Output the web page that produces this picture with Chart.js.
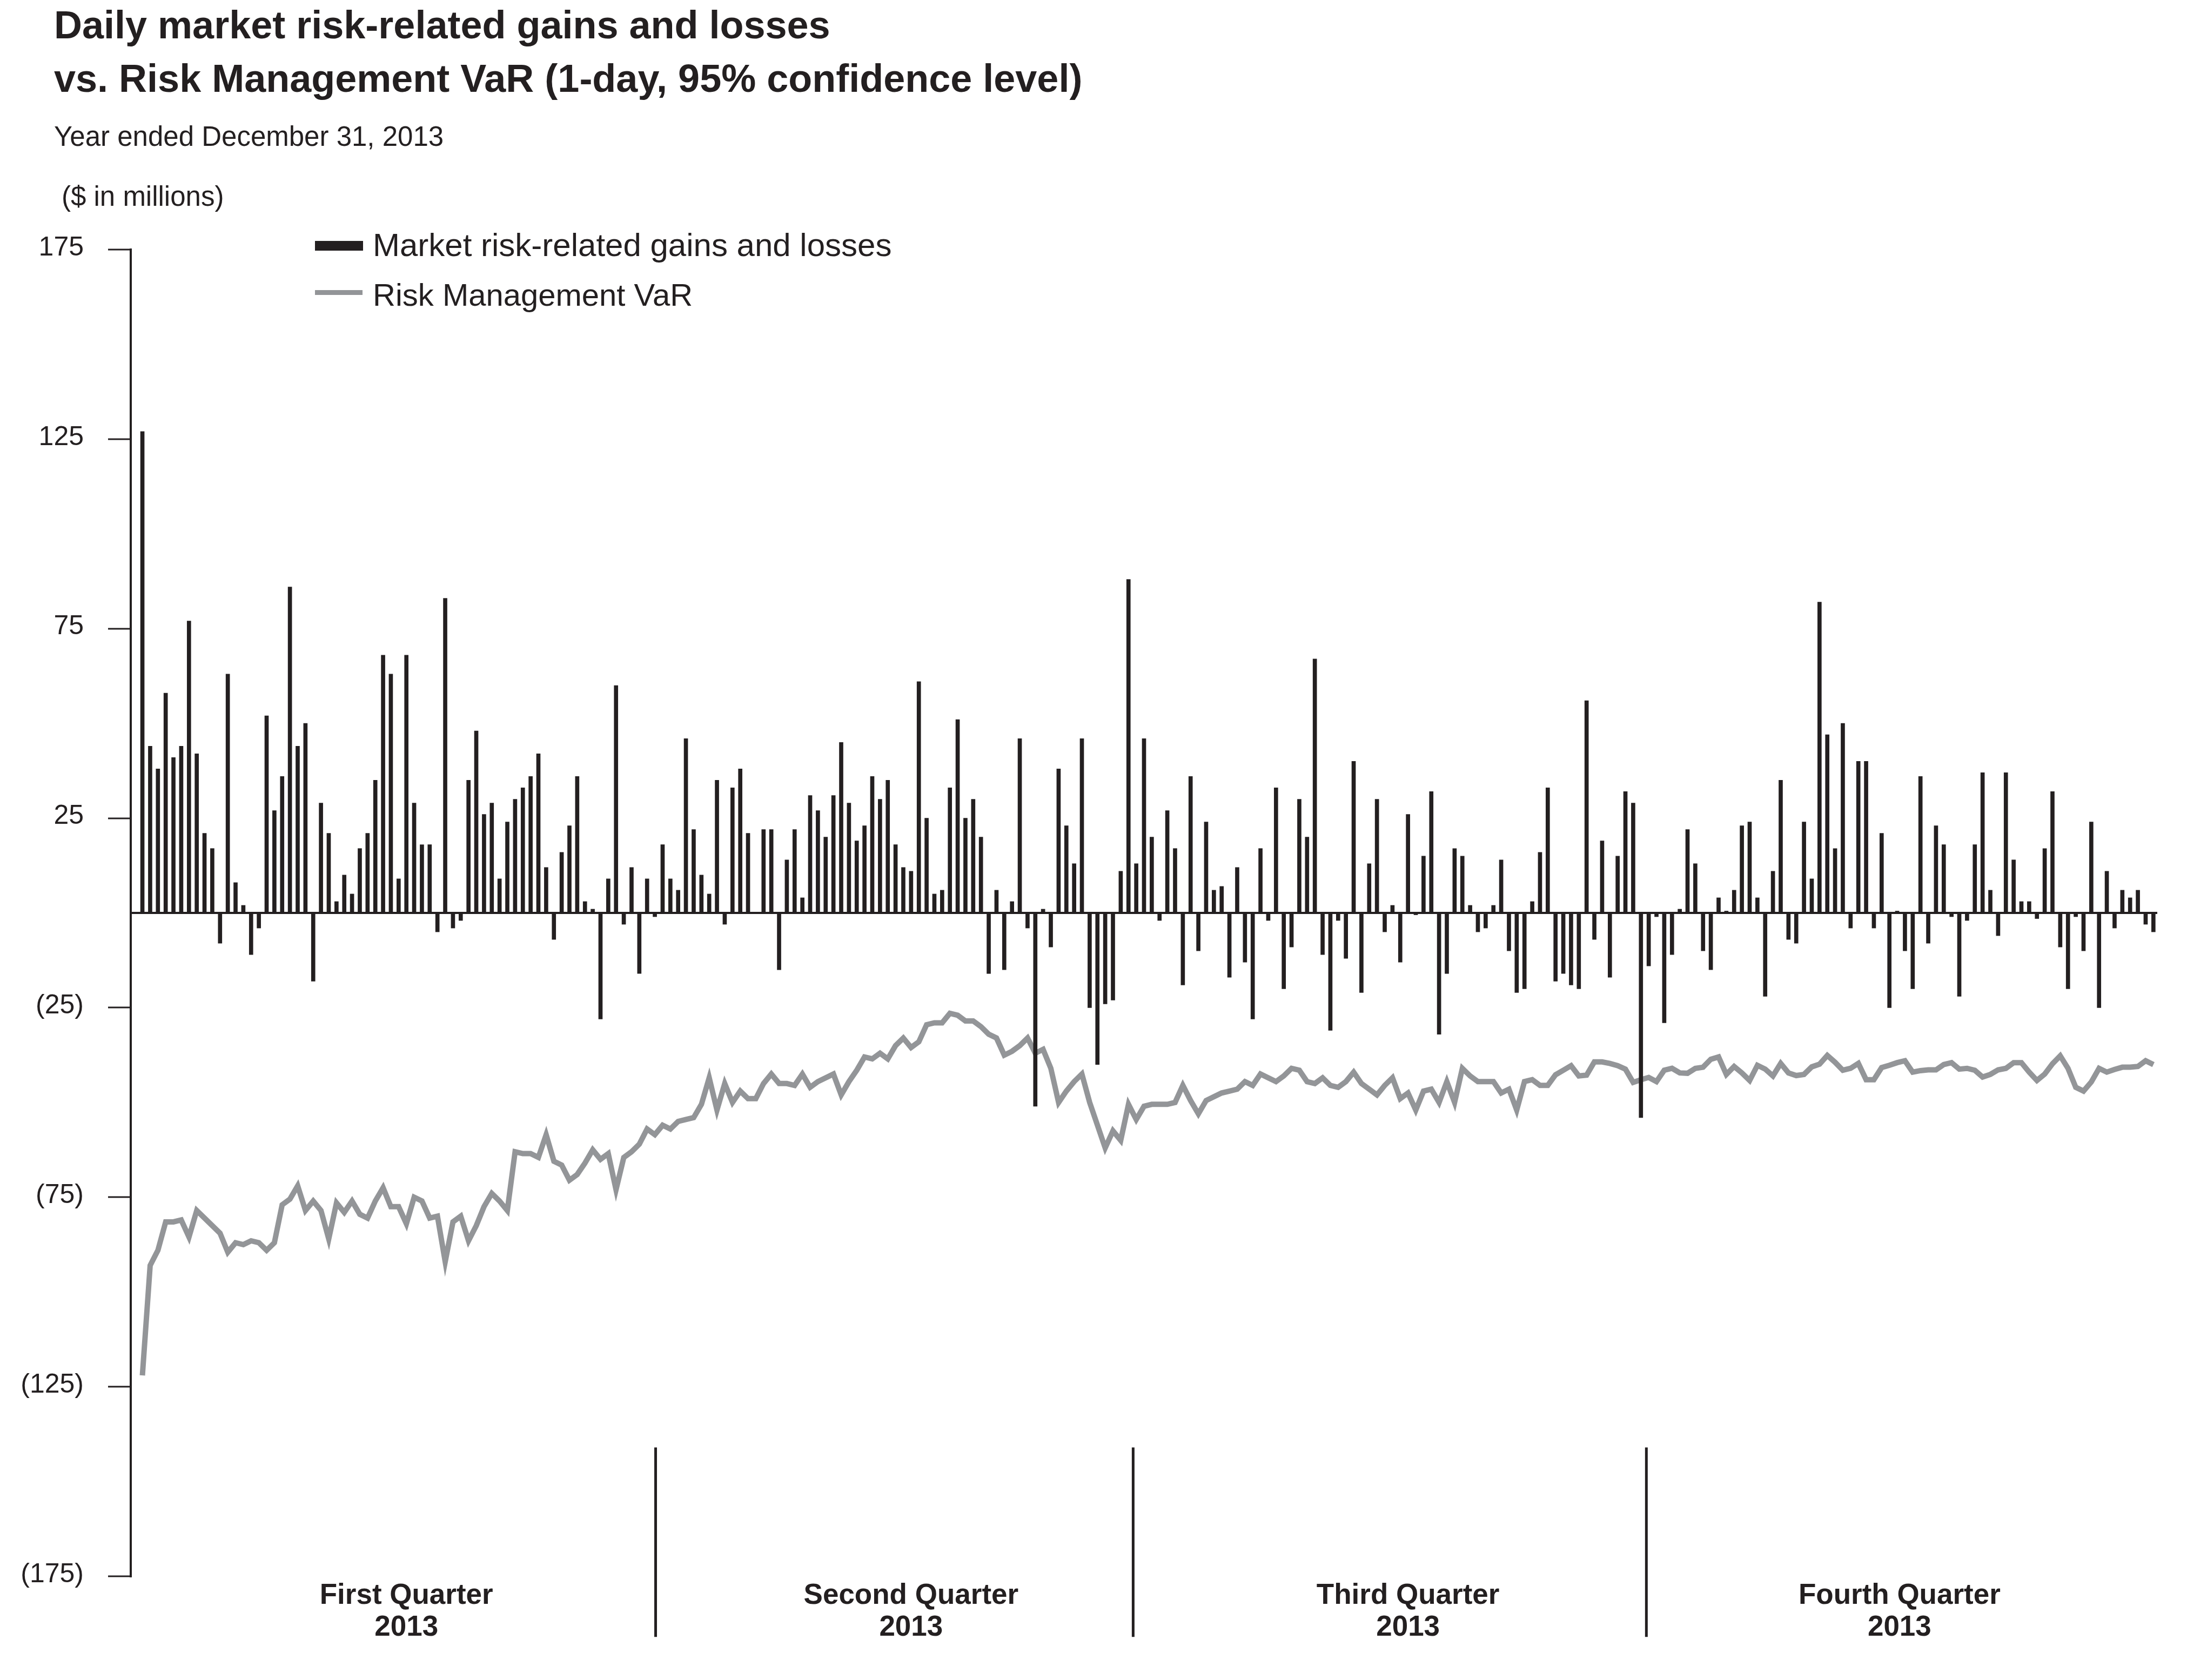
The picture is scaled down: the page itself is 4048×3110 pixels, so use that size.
<!DOCTYPE html>
<html>
<head>
<meta charset="utf-8">
<script src="https://cdn.jsdelivr.net/npm/chart.js@4.4.1/dist/chart.umd.min.js"></script>
<style>
  html, body { margin: 0; padding: 0; background: #fff; }
  #page { position: relative; width: 4048px; height: 3110px; overflow: hidden; font-family: "Liberation Sans", Arial, sans-serif; color: #231f20; }
  #wrap { position: absolute; left: 0; top: 0; width: 4048px; height: 3110px; }
  .txt { position: absolute; white-space: nowrap; line-height: 1; }
  .sw { position: absolute; }
</style>
</head>
<body>
<div id="page">
  <div id="wrap"><canvas id="chart"></canvas></div>
  <div class="txt" style="left:100px; top:10px; font-size:72px; font-weight:bold;">Daily market risk-related gains and losses</div>
  <div class="txt" style="left:100px; top:109px; font-size:72px; font-weight:bold;">vs. Risk Management VaR (1-day, 95% confidence level)</div>
  <div class="txt" style="left:100px; top:227px; font-size:51px;">Year ended December 31, 2013</div>
  <div class="txt" style="left:114px; top:338px; font-size:51px;">($ in millions)</div>
  <div class="sw" style="left:583px; top:446px; width:89px; height:18px; background:#231f20;"></div>
  <div class="txt" style="left:690px; top:424px; font-size:60px;">Market risk-related gains and losses</div>
  <div class="sw" style="left:583px; top:537px; width:88px; height:9px; background:#939598;"></div>
  <div class="txt" style="left:690px; top:517px; font-size:58px;">Risk Management VaR</div>
</div>
<script>
// daily market risk-related gains and losses, $ millions (one per trading day)
const gains = [
  127, 44, 38, 58, 41, 44, 77, 42, 21, 17,
  -8, 63, 8, 2, -11, -4, 52, 27, 36, 86,
  44, 50, -18, 29, 21, 3, 10, 5, 17, 21,
  35, 68, 63, 9, 68, 29, 18, 18, -5, 83,
  -4, -2, 35, 48, 26, 29, 9, 24, 30, 33,
  36, 42, 12, -7, 16, 23, 36, 3, 1, -28,
  9, 60, -3, 12, -16, 9, -1, 18, 9, 6,
  46, 22, 10, 5, 35, -3, 33, 38, 21, 0,
  22, 22, -15, 14, 22, 4, 31, 27, 20, 31,
  45, 29, 19, 23, 36, 30, 35, 18, 12, 11,
  61, 25, 5, 6, 33, 51, 25, 30, 20, -16,
  6, -15, 3, 46, -4, -51, 1, -9, 38, 23,
  13, 46, -25, -40, -24, -23, 11, 88, 13, 46,
  20, -2, 27, 17, -19, 36, -10, 24, 6, 7,
  -17, 12, -13, -28, 17, -2, 33, -20, -9, 30,
  20, 67, -11, -31, -2, -12, 40, -21, 13, 30,
  -5, 2, -13, 26, -0.5, 15, 32, -32, -16, 17,
  15, 2, -5, -4, 2, 14, -10, -21, -20, 3,
  16, 33, -18, -16, -19, -20, 56, -7, 19, -17,
  15, 32, 29, -54, -14, -1, -29, -11, 1, 22,
  13, -10, -15, 4, 0.5, 6, 23, 24, 4, -22,
  11, 35, -7, -8, 24, 9, 82, 47, 17, 50,
  -4, 40, 40, -4, 21, -25, 0.5, -10, -20, 36,
  -8, 23, 18, -1, -22, -2, 18, 37, 6, -6,
  37, 14, 3, 3, -1.5, 17, 32, -9, -20, -1,
  -10, 24, -25, 11, -4, 6, 4, 6, -3, -5
];

// Risk Management VaR (shown as a negative number)
const riskVar = [
  -122, -93, -89, -81.5, -81.5, -81, -85.5, -78.5, -80.5, -82.5,
  -84.5, -89.5, -87, -87.5, -86.5, -87, -89, -87, -77, -75.5,
  -72, -78.5, -76, -78.5, -86, -76.5, -79, -76, -79.5, -80.5,
  -76, -72.5, -77.5, -77.5, -82, -75, -76, -80.5, -80, -92,
  -81.5, -80, -86.5, -82.5, -77.5, -74, -76, -78.5, -63, -63.5,
  -63.5, -64.5, -58.5, -65.5, -66.5, -70.5, -69, -66, -62.5, -65,
  -63.5, -73, -64.5, -63, -61, -57, -58.5, -56, -57, -55,
  -54.5, -54, -50.5, -43.5, -52, -45, -50, -47, -49, -49,
  -45, -42.5, -45, -45, -45.5, -42.5, -46, -44.5, -43.5, -42.5,
  -48, -44.5, -41.5, -38, -38.5, -37, -38.5, -35, -33, -35.5,
  -34, -29.5, -29, -29, -26.5, -27, -28.5, -28.5, -30, -32,
  -33, -37.5, -36.5, -35, -33, -37, -36, -41, -50, -47,
  -44.5, -42.5, -50, -56, -62, -57.5, -60, -50.5, -54.5, -51,
  -50.5, -50.5, -50.5, -50, -45.5, -49.5, -53, -49.5, -48.5, -47.5,
  -47, -46.5, -44.5, -45.5, -42.5, -43.5, -44.5, -43, -41, -41.5,
  -44.5, -45, -43.5, -45.5, -46, -44.5, -42, -45, -46.5, -48,
  -45.5, -43.5, -49, -47.5, -52, -47, -46.5, -50, -44.5, -50,
  -41, -43, -44.5, -44.5, -44.5, -47.5, -46.5, -52, -44.5, -44,
  -45.5, -45.5, -42.7, -41.5, -40.3, -43, -42.8, -39.3, -39.3, -39.7,
  -40.3, -41.2, -44.7, -44, -43.4, -44.5, -41.5, -41, -42.2, -42.3,
  -41, -40.7, -38.6, -38, -42.6, -40.5, -42.2, -44.2, -40.2, -41.2,
  -43, -39.7, -42.2, -42.9, -42.6, -40.6, -39.9, -37.6, -39.4, -41.5,
  -41, -39.7, -44, -44, -40.8, -40.2, -39.5, -39, -42, -41.6,
  -41.4, -41.4, -40, -39.5, -41.2, -41, -41.5, -43.3, -42.6, -41.4,
  -41, -39.5, -39.5, -42, -44.2, -42.5, -39.8, -37.7, -41, -46,
  -47, -44.6, -41, -42, -41.3, -40.7, -40.7, -40.5, -39, -40
];

const yTicks = [-175, -125, -75, -25, 0, 25, 75, 125, 175];
const quarterNames = ["First Quarter", "Second Quarter", "Third Quarter", "Fourth Quarter"];
const quarterYear = "2013";
const quarterLabelAt = [34, 99, 163, 226.3];   // in trading-day units
const dividerAt = [66.1, 127.6, 193.7];
const dividerSpan = [-141, -191];

const ink = "#231f20";
const grey = "#939598";
const fontFamily = '"Liberation Sans", Arial, sans-serif';

const quarterDividers = {
  id: "quarterDividers",
  afterDraw(chart) {
    const { ctx, scales: { x, y } } = chart;
    ctx.save();
    ctx.strokeStyle = ink;
    ctx.lineWidth = 5;
    dividerAt.forEach(v => {
      const px = x.getPixelForValue(v);
      ctx.beginPath();
      ctx.moveTo(px, y.getPixelForValue(dividerSpan[0]));
      ctx.lineTo(px, y.getPixelForValue(dividerSpan[1]));
      ctx.stroke();
    });
    ctx.restore();
  }
};

const ctx = document.getElementById("chart").getContext("2d");

new Chart(ctx, {
  data: {
    datasets: [
      {
        type: "bar",
        label: "Market risk-related gains and losses",
        data: gains.map((v, i) => ({ x: i, y: v })),
        backgroundColor: ink,
        barThickness: 7,
        order: 0
      },
      {
        type: "line",
        label: "Risk Management VaR",
        data: riskVar.map((v, i) => ({ x: i, y: v })),
        borderColor: grey,
        borderWidth: 10,
        pointRadius: 0,
        tension: 0,
        order: 1
      }
    ]
  },
  options: {
    animation: false,
    responsive: true,
    maintainAspectRatio: false,
    devicePixelRatio: 1,
    layout: { padding: { top: 462, right: 55, bottom: 0, left: 0 } },
    plugins: {
      legend: { display: false },
      tooltip: { enabled: false }
    },
    scales: {
      x: {
        type: "linear",
        offset: false,
        min: -1.5,
        max: 259.5,
        afterFit: s => { s.height = 192; },
        afterBuildTicks: s => { s.ticks = quarterLabelAt.map(v => ({ value: v })); },
        grid: { display: false },
        border: { display: false },
        ticks: {
          autoSkip: false,
          maxRotation: 0,
          padding: -2,
          color: ink,
          font: { family: fontFamily, size: 53, weight: "bold", lineHeight: 1.13 },
          callback: (v, i) => [quarterNames[i], quarterYear]
        }
      },
      y: {
        min: -175,
        max: 175,
        afterFit: s => { s.width = 242; },
        afterBuildTicks: s => { s.ticks = yTicks.map(v => ({ value: v })); },
        border: { color: ink, width: 4 },
        grid: {
          color: c => c.tick && c.tick.value === 0 ? ink : "rgba(0,0,0,0)",
          lineWidth: 4,
          tickLength: 42,
          tickWidth: 3,
          tickColor: c => c.tick && c.tick.value === 0 ? "rgba(0,0,0,0)" : ink
        },
        ticks: {
          padding: 45,
          labelOffset: -3,
          color: ink,
          font: { family: fontFamily, size: 50 },
          callback: v => v === 0 ? "" : (v < 0 ? "(" + (-v) + ")" : String(v))
        }
      }
    }
  },
  plugins: [quarterDividers]
});
</script>
</body>
</html>
